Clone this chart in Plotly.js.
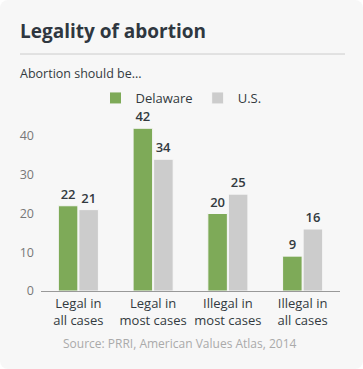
<!DOCTYPE html>
<html>
<head>
<meta charset="utf-8">
<script src="https://cdn.plot.ly/plotly-3.0.1.min.js"></script>
<style>
  html, body { margin: 0; padding: 0; background: #ffffff; }
  #card { position: absolute; left: 0; top: 0; width: 363px; height: 369px; background: #f7f7f7; border-radius: 8px; }
  #chart { width: 363px; height: 369px; }
</style>
</head>
<body>
<div id="card"><div id="chart"></div></div>
<script>
const categories = ["Legal in<br>all cases", "Legal in<br>most cases", "Illegal in<br>most cases", "Illegal in<br>all cases"];
const delaware = [22, 42, 20, 9];
const us = [21, 34, 25, 16];
const seriesNames = ["Delaware", "U.S."];
const yTicks = [0, 10, 20, 30, 40];

const FONT = "Open Sans, sans-serif";
const traces = [
  { type: "bar", name: seriesNames[0], x: categories, y: delaware,
    marker: { color: "#7eaa58", line: { color: "#f7f7f7", width: 1 } },
    text: delaware.map(String), textposition: "outside", cliponaxis: false,
    textfont: { family: FONT, size: 13, color: "#333a40", weight: 600 }, hoverinfo: "none" },
  { type: "bar", name: seriesNames[1], x: categories, y: us,
    marker: { color: "#cccccc", line: { color: "#f7f7f7", width: 1 } },
    text: us.map(String), textposition: "outside", cliponaxis: false,
    textfont: { family: FONT, size: 13, color: "#333a40", weight: 600 }, hoverinfo: "none" }
];

const layout = {
  width: 363, height: 369,
  margin: { l: 41, r: 23, t: 105, b: 78 },
  paper_bgcolor: "rgba(0,0,0,0)", plot_bgcolor: "rgba(0,0,0,0)",
  font: { family: FONT, color: "#333a40" },
  barmode: "group", bargap: 0.45, bargroupgap: 0.05,
  title: { text: "<b>Legality of abortion</b>", font: { family: FONT, size: 19, color: "#2f3740" },
           x: 20/363, xref: "container", xanchor: "left", y: 1 - 31/369, yref: "container", yanchor: "middle" },
  xaxis: { showgrid: false, showline: true, linecolor: "#999999", linewidth: 1, ticks: "",
           tickfont: { family: FONT, size: 13, color: "#333a40" }, fixedrange: true },
  yaxis: { range: [0, 48], tickvals: yTicks, showgrid: false, zeroline: false, showline: false,
           tickfont: { family: FONT, size: 12.5, color: "#777777" }, ticks: "", ticklabelstandoff: 6, fixedrange: true },
  showlegend: true,
  legend: { orientation: "h", x: (181-41)/299, xanchor: "center", y: (291 - 98)/186, yanchor: "middle",
            font: { family: FONT, size: 13, color: "#333a40" }, itemwidth: 30, bgcolor: "rgba(0,0,0,0)" },
  shapes: [
    { type: "line", xref: "paper", yref: "paper", x0: -21/299, x1: 304/299, y0: (291-54)/186, y1: (291-54)/186,
      line: { color: "#cccccc", width: 1 } }
  ],
  annotations: [
    { text: "Abortion should be...", xref: "paper", yref: "paper", x: -23/299, y: (291-74)/186,
      xanchor: "left", yanchor: "middle", showarrow: false, font: { family: FONT, size: 12.5, color: "#333a40" } },
    { text: "Source: PRRI, American Values Atlas, 2014", xref: "paper", yref: "paper", x: (180-41)/299, y: (291-343)/186,
      xanchor: "center", yanchor: "middle", showarrow: false, font: { family: FONT, size: 12, color: "#aaaaaa" } }
  ]
};

Plotly.newPlot("chart", traces, layout, { displayModeBar: false, staticPlot: true });
</script>
</body>
</html>
